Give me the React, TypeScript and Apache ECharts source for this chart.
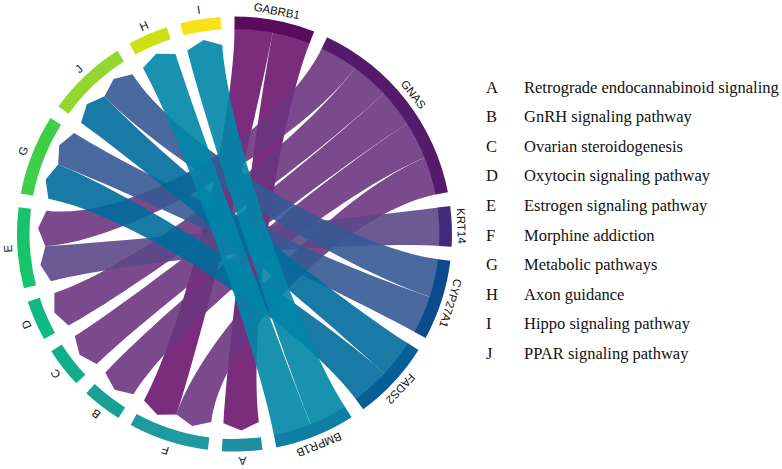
import React, { useEffect, useRef } from "react";
import * as echarts from "echarts";

// ---------- data ----------
const genes = ["GABRB1", "GNAS", "KRT14", "CYP27A1", "FADS2", "BMPR1B"];
const circlePathways = ["A", "F", "B", "C", "D", "E", "G", "J", "H", "I"];
const legendLetters = ["A", "B", "C", "D", "E", "F", "G", "H", "I", "J"];
const legendNames = [
  "Retrograde endocannabinoid signaling",
  "GnRH signaling pathway",
  "Ovarian steroidogenesis",
  "Oxytocin signaling pathway",
  "Estrogen signaling pathway",
  "Morphine addiction",
  "Metabolic pathways",
  "Axon guidance",
  "Hippo signaling pathway",
  "PPAR signaling pathway",
];
const linkGene = [
  "GABRB1", "GABRB1",
  "GNAS", "GNAS", "GNAS", "GNAS", "GNAS",
  "KRT14",
  "CYP27A1", "CYP27A1",
  "FADS2", "FADS2",
  "BMPR1B", "BMPR1B",
];
const linkPathway = ["A", "F", "F", "B", "C", "D", "E", "E", "G", "J", "G", "J", "H", "I"];
const linkValue = [1, 1, 1, 1, 1, 1, 1, 1, 1, 1, 1, 1, 1, 1];

// ---------- styles ----------
const geneBandColors = ["#5a0b5c", "#551a6c", "#3f2d7c", "#0b4a8b", "#075f98", "#0e7fa2"];
const geneLinkColors = ["#6d166f", "#6b367f", "#5b4888", "#365993", "#006c9c", "#0086a7"];
const pathwayColors = ["#1f8f9e", "#1e9aa0", "#17a193", "#12ae8a", "#10b984", "#16c46c", "#3fce48", "#92d72f", "#cde014", "#f9e21a"];

const CX = 234.5;
const CY = 234;
const R_OUT = 217.5;
const R_IN = 205;
const R_LINK_GENE = 206;
const R_LINK_PATH = 189.5;
const R_TIP = 196.5;
const R_LABEL = 221;
const CTRL_K = 0.55;
const GAP = 3.7;
const START = 90;

type Arc = { start: number; end: number };

const rad = (d: number) => (d * Math.PI) / 180;
const pt = (deg: number, r: number) => {
  const x = CX + r * Math.cos(rad(deg));
  const y = CY - r * Math.sin(rad(deg));
  return `${x.toFixed(2)} ${y.toFixed(2)}`;
};

function buildLayout() {
  const sectors = [...genes, ...circlePathways];
  const N = sectors.length;
  const pos: Record<string, number> = {};
  sectors.forEach((s, i) => (pos[s] = i));
  const totals = sectors.map(() => 0);
  linkGene.forEach((g, i) => {
    totals[pos[g]] += linkValue[i];
    totals[pos[linkPathway[i]]] += linkValue[i];
  });
  const sum = totals.reduce((a, b) => a + b, 0);
  const unit = (360 - N * GAP) / sum;
  const arcs: Arc[] = [];
  let cur = START;
  for (let i = 0; i < N; i++) {
    const st = cur;
    const en = cur - totals[i] * unit;
    arcs.push({ start: st, end: en });
    cur = en - GAP;
  }
  const geneSlot: Arc[] = [];
  const pathSlot: Arc[] = [];
  for (let s = 0; s < N; s++) {
    const items: { link: number; other: number; side: string }[] = [];
    linkGene.forEach((g, i) => {
      if (pos[g] === s) items.push({ link: i, other: pos[linkPathway[i]], side: "g" });
      if (pos[linkPathway[i]] === s) items.push({ link: i, other: pos[g], side: "p" });
    });
    items.sort((a, b) => ((b.other - s + N) % N) - ((a.other - s + N) % N));
    let c = arcs[s].start;
    items.forEach((it) => {
      const w = linkValue[it.link] * unit;
      const slot = { start: c, end: c - w };
      c -= w;
      if (it.side === "g") geneSlot[it.link] = slot;
      else pathSlot[it.link] = slot;
    });
  }
  return { sectors, arcs, geneSlot, pathSlot };
}

export default function App() {
  const ref = useRef<HTMLDivElement>(null);
  useEffect(() => {
    if (!ref.current) return;
    const chart = echarts.init(ref.current, undefined, { renderer: "svg" });
    const { sectors, arcs, geneSlot, pathSlot } = buildLayout();

    const curve = (a1: number, r1: number, a2: number, r2: number) =>
      `C ${pt(a1, r1 * CTRL_K)} ${pt(a2, r2 * CTRL_K)} ${pt(a2, r2)}`;

    const linkRender = (params: any) => {
      const i = params.dataIndex;
      const gs = geneSlot[i];
      const ps = pathSlot[i];
      const mid = (ps.start + ps.end) / 2;
      const d =
        `M ${pt(gs.start, R_LINK_GENE)} A ${R_LINK_GENE} ${R_LINK_GENE} 0 0 1 ${pt(gs.end, R_LINK_GENE)} ` +
        `${curve(gs.end, R_LINK_GENE, ps.start, R_LINK_PATH)} L ${pt(mid, R_TIP)} L ${pt(ps.end, R_LINK_PATH)} ` +
        `${curve(ps.end, R_LINK_PATH, gs.start, R_LINK_GENE)} Z`;
      const gi = genes.indexOf(linkGene[i]);
      return {
        type: "path",
        shape: { pathData: d },
        style: { fill: geneLinkColors[gi], opacity: 0.9 },
      };
    };

    const sectorRender = (params: any) => {
      const i = params.dataIndex;
      const a = arcs[i];
      const d =
        `M ${pt(a.start, R_OUT)} A ${R_OUT} ${R_OUT} 0 0 1 ${pt(a.end, R_OUT)} ` +
        `L ${pt(a.end, R_IN)} A ${R_IN} ${R_IN} 0 0 0 ${pt(a.start, R_IN)} Z`;
      const isGene = i < genes.length;
      const color = isGene ? geneBandColors[i] : pathwayColors[i - genes.length];
      const mid = (a.start + a.end) / 2;
      const lx = CX + R_LABEL * Math.cos(rad(mid));
      const ly = CY - R_LABEL * Math.sin(rad(mid));
      return {
        type: "group",
        children: [
          { type: "path", shape: { pathData: d }, style: { fill: color } },
          {
            type: "text",
            x: lx,
            y: ly,
            rotation: rad(mid - 90),
            style: {
              text: sectors[i],
              fill: "#111",
              fontSize: 11.5,
              fontFamily: "Liberation Sans, Arial, sans-serif",
              align: "center",
              verticalAlign: "bottom",
            },
          },
        ],
      };
    };

    const legendGraphic: any[] = [];
    legendLetters.forEach((l, i) => {
      const y = 87 + i * 29.6;
      legendGraphic.push({
        type: "text",
        x: 486,
        y,
        style: {
          text: l,
          fill: "#111",
          fontSize: 16.5,
          fontFamily: "Liberation Serif, Times New Roman, serif",
          align: "left",
          verticalAlign: "middle",
        },
      });
      legendGraphic.push({
        type: "text",
        x: 524,
        y,
        style: {
          text: legendNames[i],
          fill: "#111",
          fontSize: 16.5,
          fontFamily: "Liberation Serif, Times New Roman, serif",
          align: "left",
          verticalAlign: "middle",
        },
      });
    });

    chart.setOption({
      animation: false,
      backgroundColor: "#ffffff",
      series: [
        {
          type: "custom",
          coordinateSystem: "none",
          renderItem: linkRender,
          data: linkGene.map((_, i) => i),
          z: 1,
          silent: true,
        },
        {
          type: "custom",
          coordinateSystem: "none",
          renderItem: sectorRender,
          data: sectors.map((_, i) => i),
          z: 2,
          silent: true,
        },
      ],
      graphic: legendGraphic,
    });
    return () => chart.dispose();
  }, []);
  return (
    <div
      ref={ref}
      style={{ position: "fixed", left: 0, top: 0, width: 782, height: 469, background: "#fff" }}
    />
  );
}
